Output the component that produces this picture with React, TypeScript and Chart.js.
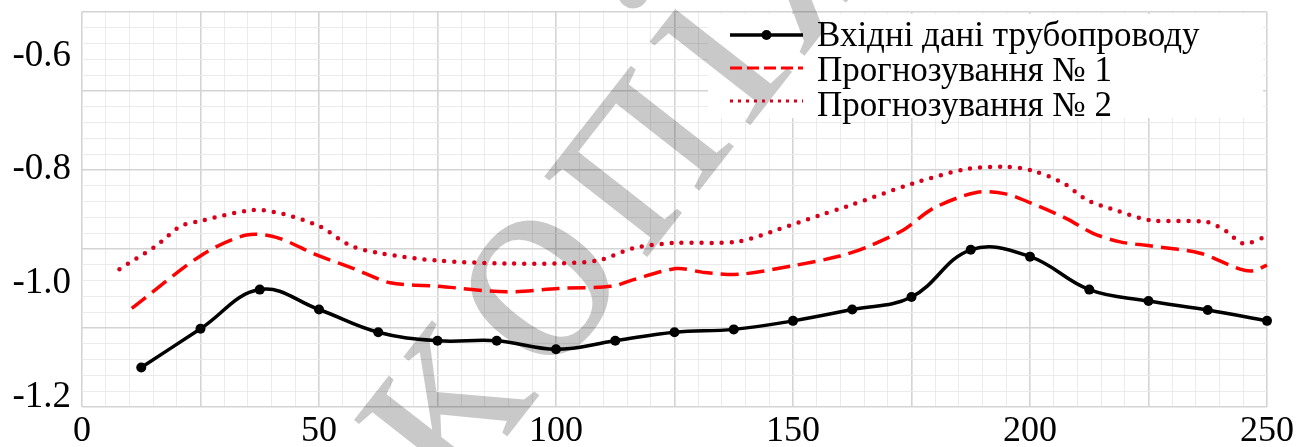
import React, { useEffect, useRef } from 'react';
import { Chart, registerables } from 'chart.js';

Chart.register(...registerables);

// Measured pipeline data (black line with markers)
const inputX = [12.5, 25, 37.5, 50, 62.5, 75, 87.5, 100, 112.5, 125, 137.5, 150, 162.5, 175, 187.5, 200, 212.5, 225, 237.5, 250];
const inputY = [-1.148, -1.080, -1.011, -1.046, -1.086, -1.101, -1.101, -1.116, -1.101, -1.086, -1.081, -1.066, -1.046, -1.024, -0.941, -0.953, -1.011, -1.031, -1.047, -1.066];

// Forecast No. 1 (dashed red)
const forecast1X = [10.5, 25.3, 34.7, 41, 49.5, 57.3, 65, 75, 89.6, 100.5, 112, 116.2, 125.4, 131.4, 138.8, 150, 159.9, 165.6, 173.3, 179.6, 188.7, 195.1, 200, 207.7, 213.3, 219, 225.3, 235.9, 244.3, 247.1, 250];
const forecast1Y = [-1.044, -0.950, -0.915, -0.919, -0.950, -0.974, -0.999, -1.005, -1.015, -1.009, -1.005, -0.994, -0.974, -0.981, -0.984, -0.969, -0.952, -0.936, -0.906, -0.868, -0.840, -0.843, -0.858, -0.886, -0.912, -0.927, -0.934, -0.947, -0.975, -0.978, -0.968];

// Forecast No. 2 (dotted red)
const forecast2X = [7.9, 15.8, 20.7, 25.6, 36.1, 42.5, 50.2, 56.5, 62.9, 75, 89.6, 100.8, 109.3, 116.3, 124.7, 138.1, 146.6, 155.7, 161.3, 175.4, 186.6, 195.1, 200.7, 207.1, 212, 218.3, 225.3, 237.3, 241.5, 245, 250];
const forecast2Y = [-0.975, -0.933, -0.900, -0.889, -0.871, -0.878, -0.900, -0.933, -0.947, -0.960, -0.965, -0.965, -0.959, -0.938, -0.929, -0.927, -0.906, -0.880, -0.865, -0.824, -0.799, -0.795, -0.802, -0.824, -0.853, -0.872, -0.889, -0.892, -0.909, -0.930, -0.917];

const seriesNames = ['Вхідні дані трубопроводу', 'Прогнозування № 1', 'Прогнозування № 2'];
const xTickLabels = [0, 50, 100, 150, 200, 250];
const yTickLabels = [-1.2, -1.0, -0.8, -0.6];
const stampText = 'копія';

const SERIF = '"Liberation Serif", "Times New Roman", Times, serif';
const MAJOR = '#d4d4d4';
const MINOR = '#ebebeb';
const RED = '#ff0000';
const DOT_RED = '#d9001c';

const toPoints = (xs: number[], ys: number[]) => xs.map((x, i) => ({ x, y: ys[i] }));

// Legend box (white backing) and the diagonal stamp are drawn under the lines;
// legend samples and captions are drawn on top.
const overlayPlugin = {
  id: 'legendAndStamp',
  beforeDatasetsDraw(chart: any) {
    const { ctx, chartArea } = chart;
    ctx.save();
    ctx.fillStyle = '#ffffff';
    ctx.fillRect(chartArea.right - 559, chartArea.top + 2, 555, 104);

    // diagonal stamp, letters laid out one by one along a rising baseline
    const size = 285;
    const gap = 14;
    ctx.translate(540, 288);
    ctx.rotate((-52 * Math.PI) / 180);
    ctx.font = `${size}px ${SERIF}`;
    ctx.fillStyle = 'rgba(0,0,0,0.21)';
    ctx.textBaseline = 'alphabetic';
    ctx.textAlign = 'center';
    const chars = Array.from(stampText);
    const widths = chars.map((ch) => ctx.measureText(ch).width);
    const centers: number[] = [];
    chars.forEach((_, i) => {
      centers.push(i === 0 ? 0 : centers[i - 1] + widths[i - 1] / 2 + gap + widths[i] / 2);
    });
    const shift = centers[1];
    chars.forEach((ch, i) => ctx.fillText(ch, centers[i] - shift, size * 0.23));
    ctx.restore();
  },
  afterDatasetsDraw(chart: any) {
    const { ctx, chartArea } = chart;
    const x0 = chartArea.right - 537;
    const x1 = x0 + 73;
    const rows = [35, 68, 101];
    const baselines = [46, 81, 116];
    ctx.save();
    // solid line with marker
    ctx.strokeStyle = '#000';
    ctx.lineWidth = 3.5;
    ctx.setLineDash([]);
    ctx.beginPath();
    ctx.moveTo(x0, rows[0]);
    ctx.lineTo(x1, rows[0]);
    ctx.stroke();
    ctx.fillStyle = '#000';
    ctx.beginPath();
    ctx.arc((x0 + x1) / 2, rows[0], 5, 0, Math.PI * 2);
    ctx.fill();
    // dashed
    ctx.strokeStyle = RED;
    ctx.lineWidth = 3;
    ctx.setLineDash([12, 5]);
    ctx.beginPath();
    ctx.moveTo(x0, rows[1]);
    ctx.lineTo(x1, rows[1]);
    ctx.stroke();
    // dotted
    ctx.strokeStyle = DOT_RED;
    ctx.lineWidth = 3;
    ctx.setLineDash([3, 5]);
    ctx.beginPath();
    ctx.moveTo(x0, rows[2]);
    ctx.lineTo(x1, rows[2]);
    ctx.stroke();
    ctx.setLineDash([]);
    // captions
    ctx.fillStyle = '#000';
    ctx.font = `35px ${SERIF}`;
    ctx.textBaseline = 'alphabetic';
    ctx.textAlign = 'left';
    seriesNames.forEach((name, i) => ctx.fillText(name, x1 + 14, baselines[i]));
    ctx.restore();
  },
};

export default function App() {
  const canvasRef = useRef<HTMLCanvasElement | null>(null);

  useEffect(() => {
    document.body.style.margin = '0';
    const canvas = canvasRef.current;
    if (!canvas) return;

    const gridColor = (step: number) => (c: any) => (Math.round(c.tick.value) % step === 0 ? MAJOR : MINOR);
    const gridWidth = (step: number) => (c: any) => (Math.round(c.tick.value) % step === 0 ? 1.6 : 1);

    const chart = new Chart(canvas, {
      type: 'line',
      data: {
        datasets: [
          {
            label: seriesNames[0],
            data: toPoints(inputX, inputY),
            borderColor: '#000',
            backgroundColor: '#000',
            borderWidth: 3.5,
            pointRadius: 5,
            pointBackgroundColor: '#000',
            pointBorderWidth: 0,
            tension: 0.4,
            clip: 10,
            order: 0,
          },
          {
            label: seriesNames[1],
            data: toPoints(forecast1X, forecast1Y),
            borderColor: RED,
            borderWidth: 3.5,
            borderDash: [18, 8],
            pointRadius: 0,
            tension: 0.3,
            clip: 10,
            order: 1,
          },
          {
            label: seriesNames[2],
            data: toPoints(forecast2X, forecast2Y),
            borderColor: DOT_RED,
            borderWidth: 4.5,
            borderDash: [0, 10],
            borderCapStyle: 'round',
            pointRadius: 0,
            tension: 0.3,
            clip: 10,
            order: 2,
          },
        ],
      },
      options: {
        animation: false,
        responsive: true,
        maintainAspectRatio: false,
        layout: { padding: { top: 12, right: 48, left: 0, bottom: 0 } },
        plugins: {
          legend: { display: false },
          tooltip: { enabled: false },
        },
        scales: {
          x: {
            type: 'linear',
            position: 'bottom',
            min: 0,
            max: 250,
            afterFit: (s: any) => {
              s.height = 40;
              s.paddingLeft = 0;
              s.paddingRight = 0;
            },
            grid: { color: gridColor(25), lineWidth: gridWidth(25), drawTicks: false },
            border: { display: false },
            ticks: {
              stepSize: 5,
              autoSkip: false,
              maxRotation: 0,
              padding: 3,
              color: '#000',
              font: { family: SERIF, size: 36 },
              callback: (v: any) => (xTickLabels.includes(Number(v)) ? String(v) : ''),
            },
          },
          y: {
            type: 'linear',
            position: 'left',
            min: -1.2176,
            max: -0.5225,
            afterFit: (s: any) => {
              s.width = 82;
              s.paddingTop = 0;
              s.paddingBottom = 0;
            },
            afterBuildTicks: (s: any) => {
              s.ticks = yTickLabels.map((value) => ({ value }));
            },
            grid: { display: false, drawTicks: false },
            border: { display: false },
            ticks: {
              padding: 11,
              color: '#000',
              font: { family: SERIF, size: 37 },
              callback: (v: any) => Number(v).toFixed(1),
            },
          },
          yGrid: {
            type: 'linear',
            position: 'left',
            min: 0,
            max: 25,
            afterFit: (s: any) => {
              s.width = 0;
              s.paddingTop = 0;
              s.paddingBottom = 0;
            },
            grid: { color: gridColor(5), lineWidth: gridWidth(5), drawTicks: false },
            border: { display: false },
            ticks: { display: false, stepSize: 1 },
          },
        },
      },
      plugins: [overlayPlugin],
    } as any);

    return () => chart.destroy();
  }, []);

  return (
    <div style={{ width: 1315, height: 447, position: 'relative', background: '#fff' }}>
      <canvas ref={canvasRef} />
    </div>
  );
}
